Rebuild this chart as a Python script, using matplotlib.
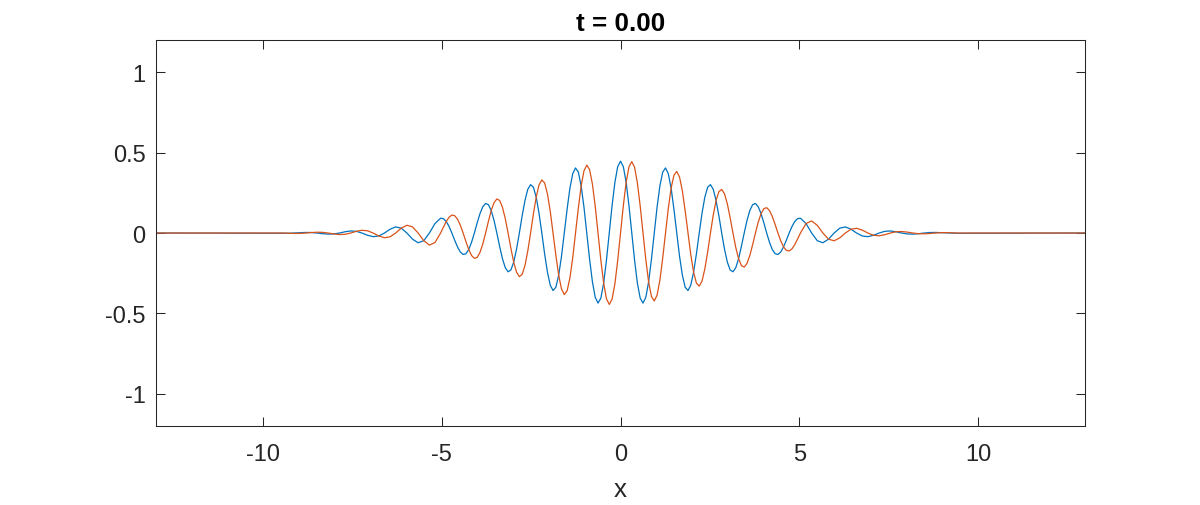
import matplotlib
matplotlib.use('Agg')
import matplotlib.pyplot as plt

x = [-13.0,
     -9.425, -9.268, -9.111, -8.954, -8.796, -8.639, -8.482, -8.325, -8.168, -8.011,
     -7.854, -7.697, -7.540, -7.383, -7.226, -7.069, -6.912, -6.754, -6.597, -6.440,
     -6.283, -6.126, -5.969, -5.812, -5.655, -5.498, -5.341, -5.184,
     -5.027, -4.948, -4.869, -4.791, -4.712, -4.634, -4.555, -4.477, -4.398, -4.320,
     -4.241, -4.163, -4.084, -4.006, -3.927, -3.848, -3.770, -3.691, -3.613, -3.534,
     -3.456, -3.377, -3.299, -3.220, -3.142, -3.063, -2.985, -2.906, -2.827, -2.749,
     -2.670, -2.592, -2.513, -2.435, -2.356, -2.278, -2.199, -2.121, -2.042, -1.963,
     -1.885, -1.806, -1.728, -1.649, -1.571, -1.492, -1.414, -1.335, -1.257, -1.178,
     -1.100, -1.021, -0.942, -0.864, -0.785, -0.707, -0.628, -0.550, -0.471, -0.393,
     -0.314, -0.236, -0.157, -0.079,
     0.000,
     0.079, 0.157, 0.236, 0.314, 0.393, 0.471, 0.550, 0.628, 0.707, 0.785,
     0.864, 0.942, 1.021, 1.100, 1.178, 1.257, 1.335, 1.414, 1.492, 1.571,
     1.649, 1.728, 1.806, 1.885, 1.963, 2.042, 2.121, 2.199, 2.278, 2.356,
     2.435, 2.513, 2.592, 2.670, 2.749, 2.827, 2.906, 2.985, 3.063, 3.142,
     3.220, 3.299, 3.377, 3.456, 3.534, 3.613, 3.691, 3.770, 3.848, 3.927,
     4.006, 4.084, 4.163, 4.241, 4.320, 4.398, 4.477, 4.555, 4.634, 4.712,
     4.791, 4.869, 4.948, 5.027,
     5.184, 5.341, 5.498, 5.655, 5.812, 5.969, 6.126, 6.283, 6.440, 6.597,
     6.754, 6.912, 7.069, 7.226, 7.383, 7.540, 7.697, 7.854, 8.011, 8.168,
     8.325, 8.482, 8.639, 8.796, 8.954, 9.111, 9.268, 9.425,
     13.0]

psi_re = [0.0,
          -0.0017, -0.0015, 0.0, 0.0021, 0.0036, 0.0030, 0.0, -0.0042, -0.0069, -0.0057,
          0.0, 0.0078, 0.0128, 0.0105, 0.0, -0.0139, -0.0226, -0.0182, 0.0, 0.0236,
          0.0379, 0.0302, 0.0, -0.0382, -0.0605, -0.0478, 0.0, 0.0589,
          0.0921, 0.0893, 0.0717, 0.0407, 0.0, -0.0447, -0.0863, -0.1179, -0.1333, -0.1285,
          -0.1026, -0.0579, 0.0, 0.0627, 0.1205, 0.1635, 0.1837, 0.1761, 0.1397, 0.0783,
          0.0, -0.0838, -0.1600, -0.2158, -0.2410, -0.2295, -0.1810, -0.1008, 0.0, 0.1066,
          0.2022, 0.2711, 0.3009, 0.2849, 0.2232, 0.1236, 0.0, -0.1290, -0.2433, -0.3243,
          -0.3577, -0.3365, -0.2620, -0.1442, 0.0, 0.1487, 0.2787, 0.3691, 0.4046, 0.3783,
          0.2928, 0.1601, 0.0, -0.1631, -0.3039, -0.3999, -0.4357, -0.4049, -0.3114, -0.1693,
          0.0, 0.1703, 0.3153, 0.4124,
          0.4466,
          0.4124, 0.3153, 0.1703, 0.0, -0.1693, -0.3114, -0.4049, -0.4357, -0.3999, -0.3039,
          -0.1631, 0.0, 0.1601, 0.2928, 0.3783, 0.4046, 0.3691, 0.2787, 0.1487, 0.0,
          -0.1442, -0.2620, -0.3365, -0.3577, -0.3243, -0.2433, -0.1290, 0.0, 0.1236, 0.2232,
          0.2849, 0.3009, 0.2711, 0.2022, 0.1066, 0.0, -0.1008, -0.1810, -0.2295, -0.2410,
          -0.2158, -0.1600, -0.0838, 0.0, 0.0783, 0.1397, 0.1761, 0.1837, 0.1635, 0.1205,
          0.0627, 0.0, -0.0579, -0.1026, -0.1285, -0.1333, -0.1179, -0.0863, -0.0447, 0.0,
          0.0407, 0.0717, 0.0893, 0.0921,
          0.0589, 0.0, -0.0478, -0.0605, -0.0382, 0.0, 0.0302, 0.0379, 0.0236, 0.0,
          -0.0182, -0.0226, -0.0139, 0.0, 0.0105, 0.0128, 0.0078, 0.0, -0.0057, -0.0069,
          -0.0042, 0.0, 0.0030, 0.0036, 0.0021, 0.0, -0.0015, -0.0017,
          0.0]

psi_im = [0.0,
          0.0, -0.0015, -0.0025, -0.0021, 0.0, 0.0030, 0.0050, 0.0042, 0.0, -0.0057,
          -0.0095, -0.0078, 0.0, 0.0105, 0.0171, 0.0139, 0.0, -0.0182, -0.0294, -0.0236,
          0.0, 0.0302, 0.0482, 0.0382, 0.0, -0.0478, -0.0751, -0.0589,
          0.0, 0.0370, 0.0717, 0.0983, 0.1115, 0.1078, 0.0863, 0.0488, 0.0, -0.0532,
          -0.1026, -0.1397, -0.1575, -0.1514, -0.1205, -0.0677, 0.0, 0.0729, 0.1397, 0.1890,
          0.2117, 0.2023, 0.1600, 0.0894, 0.0, -0.0951, -0.1810, -0.2434, -0.2710, -0.2573,
          -0.2022, -0.1123, 0.0, 0.1180, 0.2232, 0.2983, 0.3301, 0.3115, 0.2433, 0.1343,
          0.0, -0.1394, -0.2620, -0.3481, -0.3828, -0.3590, -0.2787, -0.1529, 0.0, 0.1567,
          0.2928, 0.3866, 0.4225, 0.3938, 0.3039, 0.1657, 0.0, -0.1677, -0.3114, -0.4087,
          -0.4438, -0.4112, -0.3153, -0.1708,
          0.0,
          0.1708, 0.3153, 0.4112, 0.4438, 0.4087, 0.3114, 0.1677, 0.0, -0.1657, -0.3039,
          -0.3938, -0.4225, -0.3866, -0.2928, -0.1567, 0.0, 0.1529, 0.2787, 0.3590, 0.3828,
          0.3481, 0.2620, 0.1394, 0.0, -0.1343, -0.2433, -0.3115, -0.3301, -0.2983, -0.2232,
          -0.1180, 0.0, 0.1123, 0.2022, 0.2573, 0.2710, 0.2434, 0.1810, 0.0951, 0.0,
          -0.0894, -0.1600, -0.2023, -0.2117, -0.1890, -0.1397, -0.0729, 0.0, 0.0677, 0.1205,
          0.1514, 0.1575, 0.1397, 0.1026, 0.0532, 0.0, -0.0488, -0.0863, -0.1078, -0.1115,
          -0.0983, -0.0717, -0.0370, 0.0,
          0.0589, 0.0751, 0.0478, 0.0, -0.0382, -0.0482, -0.0302, 0.0, 0.0236, 0.0294,
          0.0182, 0.0, -0.0139, -0.0171, -0.0105, 0.0, 0.0078, 0.0095, 0.0057, 0.0,
          -0.0042, -0.0050, -0.0030, 0.0, 0.0021, 0.0025, 0.0015, 0.0,
          0.0]

x_ticks = [-10, -5, 0, 5, 10]
y_ticks = [-1, -0.5, 0, 0.5, 1]
y_tick_labels = ['-1', '-0.5', '0', '0.5', '1']
title_text = 't = 0.00'

plt.rcParams['font.family'] = ['Liberation Sans', 'DejaVu Sans']
plt.rcParams['axes.unicode_minus'] = False

dark = (0.15, 0.15, 0.15)

fig = plt.figure(figsize=(12, 5.06), dpi=100)
ax = fig.add_axes([0.13, 0.156, 0.7742, 0.763])

ax.plot(x, psi_re, color='#0072BD', linewidth=0.9)
ax.plot(x, psi_im, color='#D95319', linewidth=0.9)

ax.set_xlim(-12.98, 12.98)
ax.set_ylim(-1.2, 1.2)
ax.set_xticks(x_ticks)
ax.set_xticklabels([str(t) for t in x_ticks])
ax.set_yticks(y_ticks)
ax.set_yticklabels(y_tick_labels)

ax.tick_params(direction='in', length=6.5, width=0.75, color=dark,
               labelsize=17, labelcolor=dark, top=True, right=True)
ax.tick_params(axis='x', pad=12.5)
ax.tick_params(axis='y', pad=7.5)
for s in ax.spines.values():
    s.set_color(dark)
    s.set_linewidth(0.75)

ax.set_xlabel('x', fontsize=18.7, color=dark, labelpad=8)
ax.set_title(title_text, fontsize=18.7, fontweight='bold', color='black', pad=7.5)

fig.savefig('out.png', dpi=100, facecolor='white')
